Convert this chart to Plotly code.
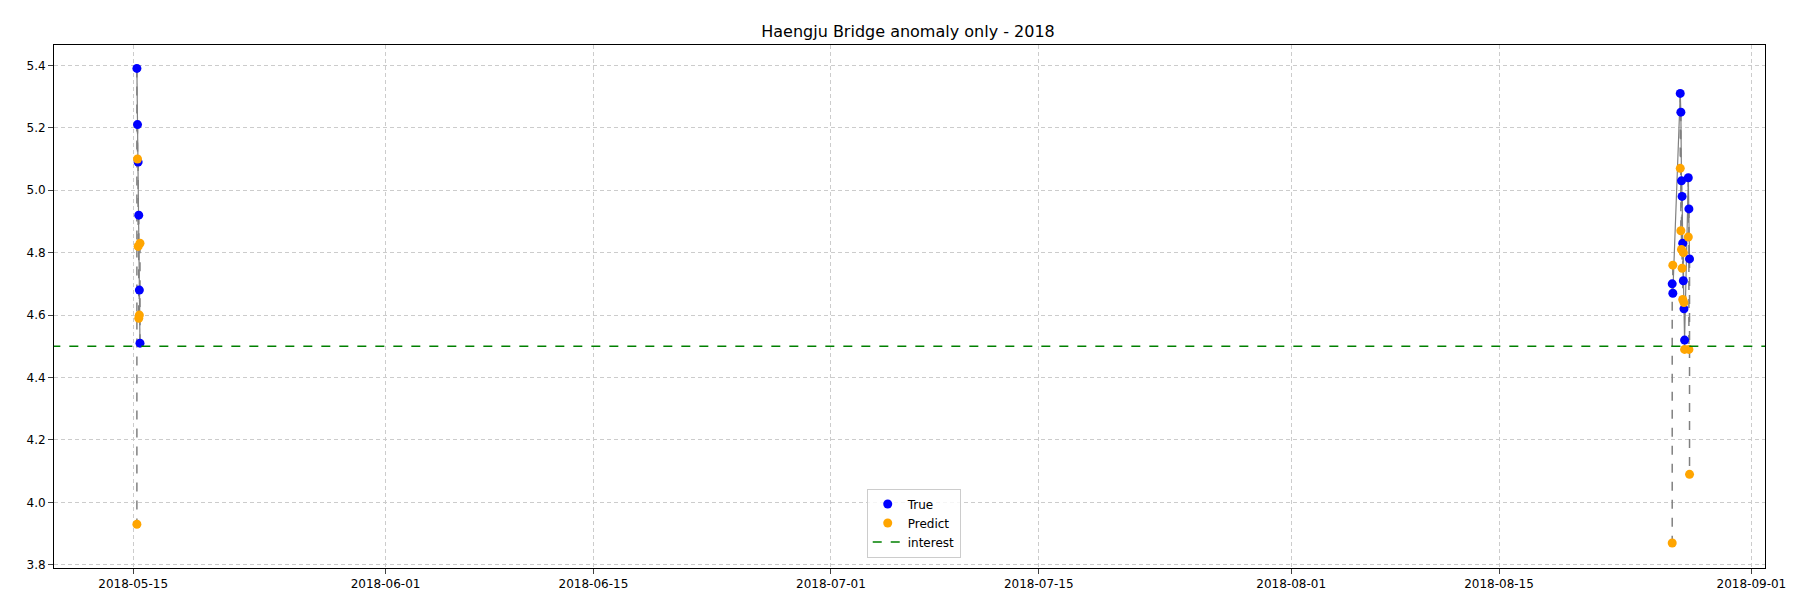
import plotly.graph_objects as go
import pandas as pd

times = pd.to_datetime([
    "2018-05-15 06:00", "2018-05-15 07:00", "2018-05-15 08:00",
    "2018-05-15 09:00", "2018-05-15 10:00", "2018-05-15 11:00",
    "2018-08-26 16:00", "2018-08-26 17:00",
    "2018-08-27 05:00", "2018-08-27 06:00", "2018-08-27 07:00", "2018-08-27 08:00",
    "2018-08-27 09:00", "2018-08-27 10:00", "2018-08-27 11:00", "2018-08-27 12:00",
    "2018-08-27 18:00", "2018-08-27 19:00", "2018-08-27 20:00",
])
true_vals = [5.39, 5.21, 5.09, 4.92, 4.68, 4.51,
             4.70, 4.67,
             5.31, 5.25, 5.03, 4.98, 4.83, 4.71, 4.62, 4.52,
             5.04, 4.94, 4.78]
pred_vals = [3.93, 5.10, 4.82, 4.59, 4.60, 4.83,
             3.87, 4.76,
             5.07, 4.87, 4.81, 4.75, 4.65, 4.80, 4.64, 4.49,
             4.85, 4.49, 4.09]
interest = 4.5

fig = go.Figure()

# dashed error lines between true and predict
ex, ey = [], []
for t, a, b in zip(times, true_vals, pred_vals):
    ex += [t, t, None]
    ey += [a, b, None]
fig.add_trace(go.Scatter(x=ex, y=ey, mode="lines", line=dict(color="gray", dash="dash", width=1.5),
                         showlegend=False, hoverinfo="skip"))

# true line per cluster
for sl in (slice(0, 6), slice(6, 19)):
    fig.add_trace(go.Scatter(x=times[sl], y=true_vals[sl], mode="lines",
                             line=dict(color="gray", width=1.2), showlegend=False))

fig.add_trace(go.Scatter(x=times, y=true_vals, mode="markers", name="True",
                         marker=dict(color="blue", size=9)))
fig.add_trace(go.Scatter(x=times, y=pred_vals, mode="markers", name="Predict",
                         marker=dict(color="orange", size=9)))
fig.add_trace(go.Scatter(x=[pd.Timestamp("2018-05-01"), pd.Timestamp("2018-09-15")], y=[interest, interest],
                         mode="lines", name="interest", line=dict(color="green", dash="dash", width=1.5)))

ticks = pd.to_datetime(["2018-05-15", "2018-06-01", "2018-06-15", "2018-07-01",
                        "2018-07-15", "2018-08-01", "2018-08-15", "2018-09-01"])

fig.update_layout(
    width=1800, height=600,
    plot_bgcolor="white", paper_bgcolor="white",
    font=dict(family="DejaVu Sans", size=12, color="black"),
    title=dict(text="Haengju Bridge anomaly only - 2018", x=0.5, y=0.97, font=dict(size=16)),
    margin=dict(l=46, r=43, t=37, b=40),
    legend=dict(x=0.475, y=0.02, xanchor="left", yanchor="bottom",
                bordercolor="#cccccc", borderwidth=1, bgcolor="rgba(255,255,255,0.8)"),
    xaxis=dict(range=[pd.Timestamp("2018-05-09 16:00"), pd.Timestamp("2018-09-01 22:00")],
               tickvals=ticks, ticktext=[t.strftime("%Y-%m-%d") for t in ticks],
               showgrid=True, gridcolor="#cccccc", griddash="4px,3px", showline=True, linecolor="black",
               mirror=True, ticks="outside", zeroline=False),
    yaxis=dict(range=[3.79, 5.465], dtick=0.2, tickformat=".1f",
               showgrid=True, gridcolor="#cccccc", griddash="4px,3px", showline=True, linecolor="black",
               mirror=True, ticks="outside", zeroline=False),
)

fig.write_html("out.html")
